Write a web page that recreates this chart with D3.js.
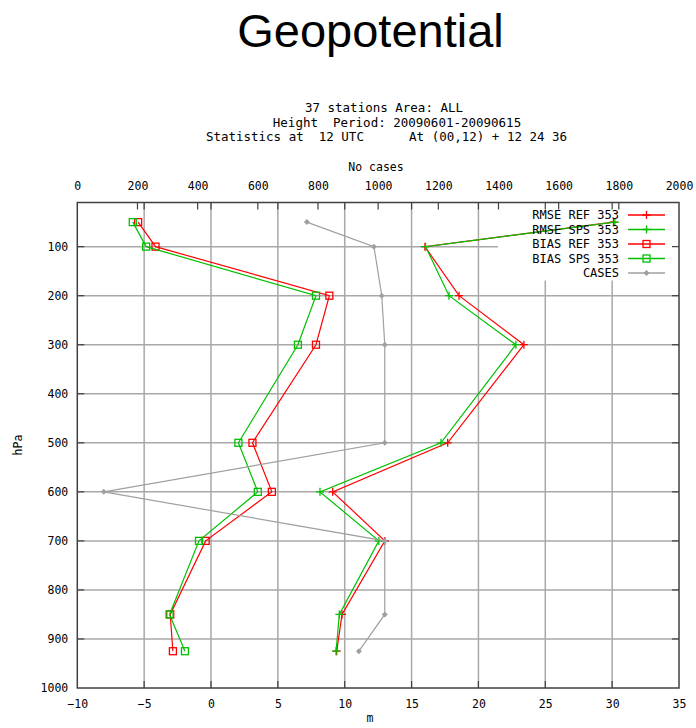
<!DOCTYPE html>
<html>
<head>
<meta charset="utf-8">
<script src="https://cdn.jsdelivr.net/npm/d3@7"></script>
<style>
  body { margin: 0; background: #fff; }
  text { font-family: "DejaVu Sans Mono", monospace; fill: #000; }
</style>
</head>
<body>
<svg id="chart" width="696" height="728"></svg>
<script>
// ── Data ──
const levels  = [50, 100, 200, 300, 500, 600, 700, 850, 925];
const rmseRef = [30.1, 16.0, 18.55, 23.4, 17.7, 9.1, 13.0, 9.8, 9.4];
const rmseSps = [30.2, 16.05, 17.8, 22.8, 17.2, 8.15, 12.55, 9.6, 9.35];
const biasRef = [-5.45, -4.15, 8.85, 7.85, 3.1, 4.55, -0.4, -3.05, -2.85];
const biasSps = [-5.85, -4.85, 7.85, 6.5, 2.05, 3.5, -0.9, -3.1, -1.95];
const cases   = [763, 986, 1012, 1022, 1022, 88, 1022, 1022, 936];

const mTicks = [-10, -5, 0, 5, 10, 15, 20, 25, 30, 35];
const caseTicks = [0, 200, 400, 600, 800, 1000, 1200, 1400, 1600, 1800, 2000];
const pTicks = [100, 200, 300, 400, 500, 600, 700, 800, 900, 1000];

const headerLines = [
  "37 stations Area: ALL",
  "Height  Period: 20090601-20090615",
  "Statistics at  12 UTC      At (00,12) + 12 24 36",
];

const series = [
  { label: "RMSE REF 353", vals: rmseRef, color: "#ff0000", mark: "plus" },
  { label: "RMSE SPS 353", vals: rmseSps, color: "#00c000", mark: "plus" },
  { label: "BIAS REF 353", vals: biasRef, color: "#ff0000", mark: "square" },
  { label: "BIAS SPS 353", vals: biasSps, color: "#00c000", mark: "square" },
];
const casesColor = "#a0a0a0";

// ── Layout ──
const W = 696, H = 728;
const M = { t: 202.5, r: 17, b: 40, l: 77.3 };
const w = W - M.l - M.r;
const h = H - M.t - M.b;

const svg = d3.select("#chart");

// ── Titles ──
svg.append("text")
  .attr("x", 370.5).attr("y", 47)
  .attr("text-anchor", "middle")
  .style("font-family", "'Liberation Sans', Arial, sans-serif")
  .style("font-size", "47px")
  .text("Geopotential");

const headerX = [384, 397, 386.5];
headerLines.forEach((s, i) => {
  svg.append("text")
    .attr("x", headerX[i]).attr("y", 112 + i * 14.5)
    .attr("text-anchor", "middle")
    .style("font-size", "12.5px")
    .style("white-space", "pre")
    .text(s);
});

svg.append("text")
  .attr("x", 376).attr("y", 171)
  .attr("text-anchor", "middle")
  .style("font-size", "11.5px")
  .text("No cases");

svg.append("text")
  .attr("transform", "translate(22,445) rotate(-90)")
  .attr("text-anchor", "middle")
  .style("font-size", "11.5px")
  .text("hPa");

svg.append("text")
  .attr("x", 370).attr("y", 722)
  .attr("text-anchor", "middle")
  .style("font-size", "11.5px")
  .text("m");

// ── Scales ──
const x = d3.scaleLinear().domain([-10, 35]).range([0, w]);
const xc = d3.scaleLinear().domain([0, 2000]).range([0, w]);
const y = d3.scaleLinear().domain([10, 1000]).range([0, h]);

const g = svg.append("g").attr("transform", `translate(${M.l},${M.t})`);

// ── Grid ──
const grid = g.append("g").attr("stroke", "#a8a8a8").attr("stroke-width", 1.5);
mTicks.slice(1, -1).forEach((v) => {
  grid.append("line").attr("x1", x(v)).attr("x2", x(v)).attr("y1", 0).attr("y2", h);
});
pTicks.slice(0, -1).forEach((p) => {
  grid.append("line").attr("x1", 0).attr("x2", w).attr("y1", y(p)).attr("y2", y(p));
});

// ── Key box (opaque) ──
g.append("rect")
  .attr("x", 498 - M.l).attr("y", 0.5)
  .attr("width", w - (498 - M.l)).attr("height", 280 - M.t)
  .attr("fill", "#fff");

// ── Axes (labels only; ticks drawn inward below) ──
function styleAxis(a) {
  a.select(".domain").remove();
  a.selectAll("line").remove();
  a.selectAll("text")
    .style("font-family", "'DejaVu Sans Mono', monospace")
    .style("font-size", "11.5px")
    .attr("fill", "#000");
}

const xB = g.append("g").attr("transform", `translate(0,${h})`)
  .call(d3.axisBottom(x).tickValues(mTicks).tickSize(0).tickPadding(12).tickFormat(d3.format("d")));
styleAxis(xB);

const xT = g.append("g")
  .call(d3.axisTop(xc).tickValues(caseTicks).tickSize(0).tickPadding(12.5).tickFormat(d3.format("d")));
styleAxis(xT);

const yL = g.append("g")
  .call(d3.axisLeft(y).tickValues(pTicks).tickSize(0).tickPadding(9).tickFormat(d3.format("d")));
styleAxis(yL);

// ── Inward ticks ──
const tk = g.append("g").attr("stroke", "#404040").attr("stroke-width", 1.2);
const TL = 7;
mTicks.slice(1, -1).forEach((v) => {
  tk.append("line").attr("x1", x(v)).attr("x2", x(v)).attr("y1", h).attr("y2", h - TL);
  tk.append("line").attr("x1", x(v)).attr("x2", x(v)).attr("y1", 0).attr("y2", TL);
});
caseTicks.slice(1, -1).forEach((v) => {
  tk.append("line").attr("x1", xc(v)).attr("x2", xc(v)).attr("y1", 0).attr("y2", TL);
});
pTicks.slice(0, -1).forEach((p) => {
  tk.append("line").attr("x1", 0).attr("x2", TL).attr("y1", y(p)).attr("y2", y(p));
  tk.append("line").attr("x1", w).attr("x2", w - TL).attr("y1", y(p)).attr("y2", y(p));
});

// ── Markers ──
function drawMark(sel, kind, cx, cy, color) {
  if (kind === "plus") {
    sel.append("path")
      .attr("d", `M${cx - 4},${cy}H${cx + 4}M${cx},${cy - 4}V${cy + 4}`)
      .attr("stroke", color).attr("stroke-width", 1.3).attr("fill", "none");
  } else if (kind === "square") {
    sel.append("rect")
      .attr("x", cx - 3.5).attr("y", cy - 3.5)
      .attr("width", 7).attr("height", 7)
      .attr("stroke", color).attr("stroke-width", 1.3).attr("fill", "none");
  } else {
    sel.append("path")
      .attr("d", `M${cx},${cy - 3}L${cx + 3},${cy}L${cx},${cy + 3}L${cx - 3},${cy}Z`)
      .attr("fill", color);
  }
}

// ── Data lines ──
const lineG = g.append("g");
const line = d3.line().x((d) => x(d[0])).y((d) => y(d[1]));

series.forEach((s) => {
  const pts = s.vals.map((v, i) => [v, levels[i]]);
  lineG.append("path")
    .datum(pts)
    .attr("d", line)
    .attr("fill", "none")
    .attr("stroke", s.color)
    .attr("stroke-width", 1.2);
  pts.forEach((p) => drawMark(lineG, s.mark, x(p[0]), y(p[1]), s.color));
});

const casePts = cases.map((c, i) => [c, levels[i]]);
lineG.append("path")
  .datum(casePts)
  .attr("d", d3.line().x((d) => xc(d[0])).y((d) => y(d[1])))
  .attr("fill", "none")
  .attr("stroke", casesColor)
  .attr("stroke-width", 1.2);
casePts.forEach((p) => drawMark(lineG, "diamond", xc(p[0]), y(p[1]), casesColor));

// ── Frame ──
g.append("rect")
  .attr("x", 0).attr("y", 0).attr("width", w).attr("height", h)
  .attr("fill", "none").attr("stroke", "#404040").attr("stroke-width", 1.5);

// ── Legend ──
const legend = [...series, { label: "CASES", color: casesColor, mark: "diamond" }];
const keyG = svg.append("g");
legend.forEach((s, i) => {
  const ly = 215 + i * 14.5;
  keyG.append("text")
    .attr("x", 619).attr("y", ly)
    .attr("dy", "0.35em")
    .attr("text-anchor", "end")
    .style("font-size", "12px")
    .style("white-space", "pre")
    .text(s.label);
  keyG.append("line")
    .attr("x1", 628).attr("x2", 665).attr("y1", ly).attr("y2", ly)
    .attr("stroke", s.color).attr("stroke-width", 1.3);
  drawMark(keyG, s.mark, 646.5, ly, s.color);
});
</script>
</body>
</html>
